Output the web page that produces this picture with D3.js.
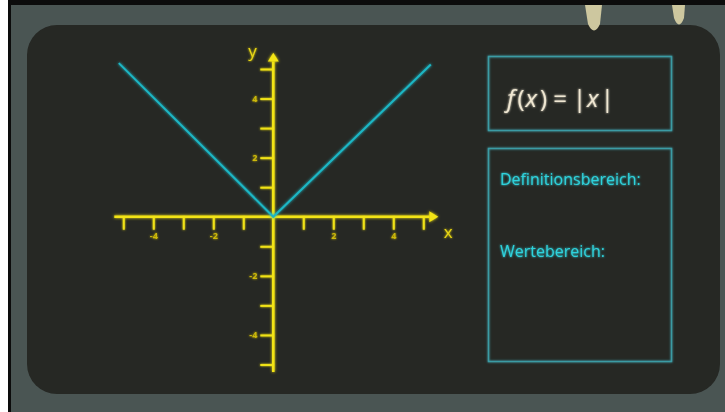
<!DOCTYPE html>
<html>
<head>
<meta charset="utf-8">
<script src="https://cdn.jsdelivr.net/npm/d3@7"></script>
<style>
  body { margin: 0; background: #fff; }
  svg { display: block; }
  .axis path.domain { display: none; }
  .axis line { stroke: #f0e214; stroke-width: 2; }
  .axis text { fill: #cdb90a; font-family: "Open Sans", sans-serif; font-size: 9px; font-weight: 700; }
</style>
</head>
<body>
<svg id="chart" width="725" height="412"></svg>
<script>
// function values f(x) = |x| as drawn
const lineX = [-5.15, 0, 5.25];
const lineY = [5.2, 0, 5.15];

// tick values and labels
const xTicks = [-5, -4, -3, -2, -1, 1, 2, 3, 4, 5];
const yTicks = [-5, -4, -3, -2, -1, 1, 2, 3, 4, 5];
const labelledTicks = [-4, -2, 2, 4];

const boxLabels = ['Definitionsbereich:', 'Wertebereich:'];

let svg = d3.select('#chart');

// glow filters
let defs = svg.append('defs');
let addGlow = function(id, dev) {
  let f = defs.append('filter').attr('id', id)
    .attr('x', '-20%').attr('y', '-20%').attr('width', '140%').attr('height', '140%');
  f.append('feGaussianBlur').attr('in', 'SourceGraphic').attr('stdDeviation', dev).attr('result', 'blur');
  let m = f.append('feMerge');
  m.append('feMergeNode').attr('in', 'blur');
  m.append('feMergeNode').attr('in', 'SourceGraphic');
};
addGlow('glow', 1.6);
addGlow('glowSoft', 1.0);

// frame + background
svg.append('rect').attr('x', 8).attr('y', 0).attr('width', 717).attr('height', 412).attr('fill', '#0c0c0c');
svg.append('rect').attr('x', 0).attr('y', 0).attr('width', 8).attr('height', 5).attr('fill', '#fff');
svg.append('rect').attr('x', 11).attr('y', 5).attr('width', 714).attr('height', 407).attr('fill', '#4a5553');

// dark board
svg.append('rect').attr('x', 27).attr('y', 25).attr('width', 693).attr('height', 369)
  .attr('rx', 30).attr('fill', '#262824');

// pegs at the top
svg.append('path').attr('d', 'M585,5 L602,5 L600,24 Q594,37 588,24 Z').attr('fill', '#cdc79f');
svg.append('path').attr('d', 'M672,5 L685,5 L684,18 Q679,31 674,18 Z').attr('fill', '#cdc79f');

// scales
let x = d3.scaleLinear().domain([-5, 5]).range([123.3, 423.3]);
let y = d3.scaleLinear().domain([-5, 5]).range([364.5, 69]);

let g = svg.append('g');

// ticks via d3 axes
let xAxis = d3.axisBottom(x).tickValues(xTicks).tickSize(13).tickPadding(3)
  .tickFormat(d => labelledTicks.includes(d) ? String(d) : '');
g.append('g').attr('class', 'axis').attr('filter', 'url(#glowSoft)')
  .attr('transform', 'translate(0,' + y(0) + ')')
  .call(xAxis);

let yAxis = d3.axisLeft(y).tickValues(yTicks).tickSize(13).tickPadding(3)
  .tickFormat(d => labelledTicks.includes(d) ? String(d) : '');
g.append('g').attr('class', 'axis').attr('filter', 'url(#glowSoft)')
  .attr('transform', 'translate(' + x(0) + ',0)')
  .call(yAxis);

// axis lines with arrows
let axisG = g.append('g').attr('filter', 'url(#glow)');
axisG.append('line')
  .attr('x1', x(-5.3)).attr('x2', x(5.2)).attr('y1', y(0)).attr('y2', y(0))
  .attr('stroke', '#f3e412').attr('stroke-width', 2.6);
axisG.append('path')
  .attr('d', 'M' + x(5.2) + ',' + (y(0) - 5.5) + ' L' + x(5.5) + ',' + y(0) + ' L' + x(5.2) + ',' + (y(0) + 5.5) + ' Z')
  .attr('fill', '#f3e412');
axisG.append('line')
  .attr('x1', x(0)).attr('x2', x(0)).attr('y1', y(-5.25)).attr('y2', y(5.25))
  .attr('stroke', '#f3e412').attr('stroke-width', 2.6);
axisG.append('path')
  .attr('d', 'M' + (x(0) - 5.5) + ',' + y(5.25) + ' L' + x(0) + ',' + y(5.55) + ' L' + (x(0) + 5.5) + ',' + y(5.25) + ' Z')
  .attr('fill', '#f3e412');

g.append('text').attr('x', x(5.68)).attr('y', y(0) + 21)
  .attr('fill', '#e8d613').attr('font-family', 'Open Sans, sans-serif').attr('font-size', 17)
  .attr('filter', 'url(#glowSoft)').text('x');
g.append('text').attr('x', x(0) - 25).attr('y', y(5.4))
  .attr('fill', '#e8d613').attr('font-family', 'Open Sans, sans-serif').attr('font-size', 17)
  .attr('filter', 'url(#glowSoft)').text('y');

// the function graph
let pts = lineX.map((v, i) => [v, lineY[i]]);
let fLine = d3.line().x(d => x(d[0])).y(d => y(d[1]));
g.append('path').datum(pts)
  .attr('d', fLine)
  .attr('fill', 'none')
  .attr('stroke', '#1cb6c4')
  .attr('stroke-width', 2)
  .attr('filter', 'url(#glow)');

// right-hand boxes
let boxes = svg.append('g').attr('filter', 'url(#glowSoft)');
boxes.append('rect').attr('x', 488.5).attr('y', 56.5).attr('width', 183).attr('height', 74)
  .attr('fill', 'none').attr('stroke', '#3b9ba4').attr('stroke-width', 1.5);
boxes.append('rect').attr('x', 488.5).attr('y', 148.5).attr('width', 183).attr('height', 213)
  .attr('fill', 'none').attr('stroke', '#3b9ba4').attr('stroke-width', 1.5);

// formula
let formula = svg.append('text').attr('x', 507).attr('y', 107)
  .attr('fill', '#efe7d2').attr('font-family', 'Open Sans, sans-serif').attr('font-size', 24)
  .attr('filter', 'url(#glowSoft)');
formula.append('tspan').attr('font-style', 'italic').text('f');
formula.append('tspan').attr('dx', 3).text('(');
formula.append('tspan').attr('dx', 1).attr('font-style', 'italic').text('x');
formula.append('tspan').attr('dx', 3).text(')');
formula.append('tspan').attr('dx', 6).text('=');
formula.append('tspan').attr('dx', 6).text('|');
formula.append('tspan').attr('dx', 1).attr('font-style', 'italic').text('x');
formula.append('tspan').attr('dx', 2).text('|');

svg.selectAll('text.box-label')
  .data(boxLabels)
  .enter().append('text')
  .attr('class', 'box-label')
  .attr('x', 500)
  .attr('y', (d, i) => i === 0 ? 185 : 257)
  .attr('fill', '#2fd2dc')
  .attr('font-family', 'Open Sans, sans-serif')
  .attr('font-size', 16)
  .attr('filter', 'url(#glowSoft)')
  .text(d => d);
</script>
</body>
</html>
